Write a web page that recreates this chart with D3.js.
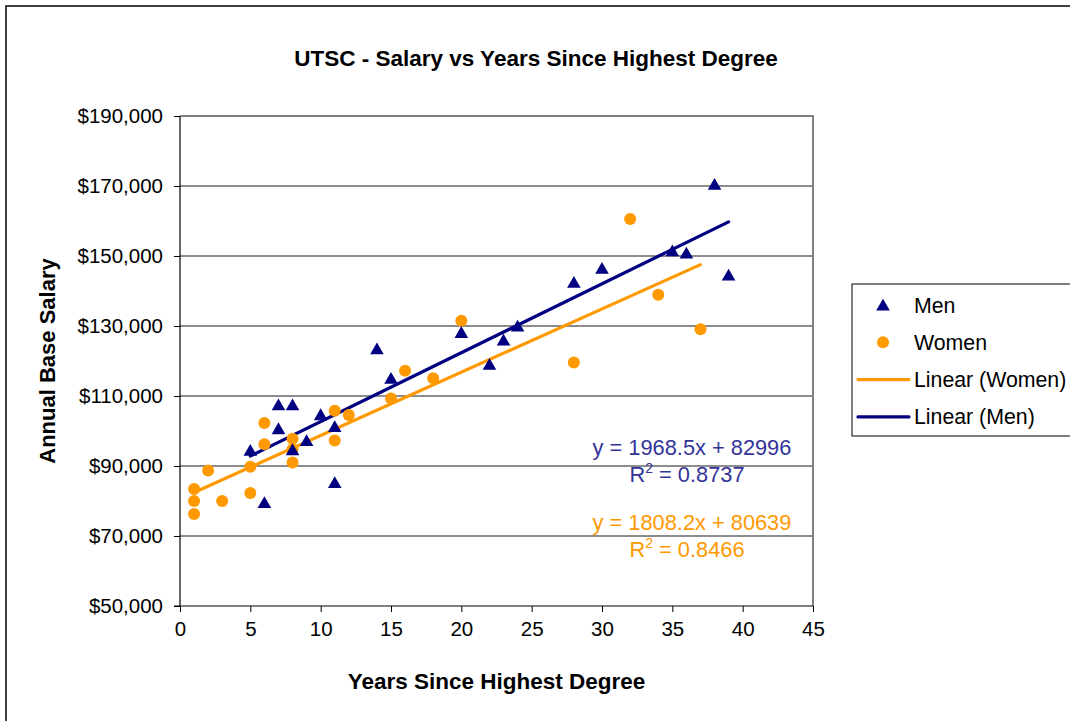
<!DOCTYPE html>
<html>
<head>
<meta charset="utf-8">
<script src="https://cdn.jsdelivr.net/npm/d3@7"></script>
<style>
  html, body { margin: 0; padding: 0; background: #fff; overflow: hidden; }
  svg { display: block; font-family: "Liberation Sans", Arial, sans-serif; }
</style>
</head>
<body>
<div id="chart"></div>
<script>
// Years since highest degree / annual base salary
const menYears = [5, 6, 7, 7, 8, 8, 9, 10, 11, 11, 14, 15, 20, 22, 23, 24, 28, 30, 35, 36, 38, 39];
const menSalary = [94500, 79600, 107500, 100700, 107500, 94700, 97300, 104700, 101300, 85300, 123500,
    115100, 128200, 119100, 126000, 130000, 142500, 146500, 151500, 150900, 170500, 144600];

const womenYears = [1, 1, 1, 2, 3, 5, 5, 6, 6, 8, 8, 8, 11, 11, 12, 15, 16, 18, 20, 28, 32, 34, 37];
const womenSalary = [83400, 80000, 76300, 88700, 80000, 89800, 82300, 102300, 96200, 97800, 94800, 91000,
    105800, 97300, 104600, 109300, 117200, 115100, 131500, 119600, 160600, 138900, 129100];

// trend line coefficients [slope, intercept, r squared]
const menTrend = [1968.5, 82996, 0.8737];
const womenTrend = [1808.2, 80639, 0.8466];

const xTicks = [0, 5, 10, 15, 20, 25, 30, 35, 40, 45];
const yTicks = [50000, 70000, 90000, 110000, 130000, 150000, 170000, 190000];
const legendLabels = ['Men', 'Women', 'Linear (Women)', 'Linear (Men)'];

const width = 1070, height = 721;
const navy = '#000080', orange = '#FF9900';

const svg = d3.select('#chart').append('svg')
    .attr('width', width)
    .attr('height', height);

// outer chart frame
svg.append('rect')
    .attr('x', 6).attr('y', 6)
    .attr('width', width + 20).attr('height', height + 20)
    .attr('fill', 'none')
    .attr('stroke', '#000')
    .attr('stroke-width', 1.5);

const x = d3.scaleLinear().domain([0, 45]).range([180, 813]);
const y = d3.scaleLinear().domain([50000, 190000]).range([606, 116]);

// grid lines
svg.append('g')
    .selectAll('line')
    .data(yTicks.slice(1, -1))
    .join('line')
    .attr('x1', x(0)).attr('x2', x(45))
    .attr('y1', d => y(d)).attr('y2', d => y(d))
    .attr('stroke', '#1a1a1a')
    .attr('stroke-width', 1);

// plot border top/right (gray)
svg.append('path')
    .attr('d', `M${x(0)},${y(190000)}H${x(45)}V${y(50000)}`)
    .attr('fill', 'none')
    .attr('stroke', '#808080')
    .attr('stroke-width', 2);

// Axes
const yAxis = svg.append('g')
    .attr('transform', `translate(${x(0)},0)`)
    .call(d3.axisLeft(y).tickValues(yTicks).tickSize(6).tickPadding(11)
        .tickFormat(d => '$' + d3.format(',')(d)));

const xAxis = svg.append('g')
    .attr('transform', `translate(0,${y(50000)})`)
    .call(d3.axisBottom(x).tickValues(xTicks).tickSize(6).tickPadding(9));

[xAxis, yAxis].forEach(g => {
    g.select('.domain').attr('stroke', '#000').attr('stroke-width', 1.2)
        .attr('d', g === xAxis ? `M${x(0) - 6},0H${x(45)}` : `M0,${y(190000)}V${y(50000)}`);
    g.selectAll('.tick line').attr('stroke', '#000');
    g.selectAll('.tick text')
        .attr('font-size', 20.5)
        .attr('font-family', '"Liberation Sans", Arial, sans-serif')
        .attr('fill', '#000');
});

// trend lines
function trendLine(years, coef, color) {
    const ext = d3.extent(years);
    svg.append('line')
        .attr('x1', x(ext[0])).attr('y1', y(coef[0] * ext[0] + coef[1]))
        .attr('x2', x(ext[1])).attr('y2', y(coef[0] * ext[1] + coef[1]))
        .attr('stroke', color)
        .attr('stroke-width', 3.2)
        .attr('stroke-linecap', 'round');
}
trendLine(womenYears, womenTrend, orange);
trendLine(menYears, menTrend, navy);

// markers
const tri = 'M0,-6.2L6.8,5.6L-6.8,5.6Z';

svg.append('g')
    .selectAll('circle')
    .data(womenYears.map((v, i) => [v, womenSalary[i]]))
    .join('circle')
    .attr('cx', d => x(d[0]))
    .attr('cy', d => y(d[1]))
    .attr('r', 6)
    .attr('fill', orange);

svg.append('g')
    .selectAll('path')
    .data(menYears.map((v, i) => [v, menSalary[i]]))
    .join('path')
    .attr('d', tri)
    .attr('transform', d => `translate(${x(d[0])},${y(d[1])})`)
    .attr('fill', navy);

// equation labels
function eqLabel(coef, cx, baseY, color) {
    const g = svg.append('g').attr('fill', color).attr('font-size', 21.8).attr('text-anchor', 'middle');
    g.append('text')
        .attr('x', cx).attr('y', baseY)
        .text(`y = ${coef[0]}x + ${coef[1]}`);
    const r = g.append('text').attr('x', cx - 5).attr('y', baseY + 27);
    r.append('tspan').text('R');
    r.append('tspan').attr('dy', -9).attr('font-size', 14).text('2');
    r.append('tspan').attr('dy', 9).text(` = ${coef[2]}`);
}
eqLabel(menTrend, 692, 455, '#333399');
eqLabel(womenTrend, 692, 530, orange);

// title
svg.append('text')
    .attr('x', 536).attr('y', 66)
    .attr('text-anchor', 'middle')
    .attr('font-size', 22.5)
    .attr('font-weight', 'bold')
    .text('UTSC - Salary vs Years Since Highest Degree');

svg.append('text')
    .attr('x', (x(0) + x(45)) / 2).attr('y', 689)
    .attr('text-anchor', 'middle')
    .attr('font-size', 22.5)
    .attr('font-weight', 'bold')
    .text('Years Since Highest Degree');

svg.append('text')
    .attr('transform', `translate(55,${(y(50000) + y(190000)) / 2}) rotate(-90)`)
    .attr('text-anchor', 'middle')
    .attr('font-size', 22)
    .attr('font-weight', 'bold')
    .text('Annual Base Salary');

// Legend
const legend = svg.append('g').attr('transform', 'translate(852,284)');
legend.append('rect')
    .attr('width', 240).attr('height', 152)
    .attr('fill', '#fff')
    .attr('stroke', '#000')
    .attr('stroke-width', 1);

const item = legend.selectAll('g.item')
    .data(legendLabels)
    .join('g')
    .attr('class', 'item')
    .attr('transform', (d, i) => `translate(0,${21 + i * 37.3})`);

item.append('text')
    .attr('x', 62).attr('y', 7.5)
    .attr('font-size', 21.3)
    .text(d => d);

item.filter((d, i) => i === 0).append('path')
    .attr('d', tri).attr('transform', 'translate(31,0)').attr('fill', navy);
item.filter((d, i) => i === 1).append('circle')
    .attr('cx', 31).attr('r', 6).attr('fill', orange);
item.filter((d, i) => i >= 2).append('line')
    .attr('x1', 6).attr('x2', 57)
    .attr('stroke', (d, i) => i === 0 ? orange : navy)
    .attr('stroke-width', 3.2)
    .attr('stroke-linecap', 'round');
</script>
</body>
</html>
